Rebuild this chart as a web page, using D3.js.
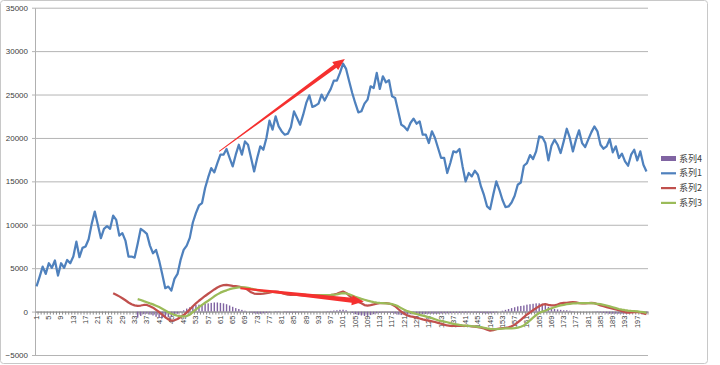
<!doctype html>
<html>
<head>
<meta charset="utf-8">
<title>系列</title>
<script src="https://cdnjs.cloudflare.com/ajax/libs/d3/7.8.5/d3.min.js"></script>
<style>
	body { margin: 0; background: #fff; }
	text { font-family: "Liberation Sans", Arial, sans-serif; fill: #404040; }
	.legend text { font-family: "Noto Sans CJK SC", sans-serif; }
</style>
</head>
<body>
<script>
	// category labels run 1..200, every 4th one is printed
	var categories = d3.range(1, 201);
	var yTicks = [-5000, 0, 5000, 10000, 15000, 20000, 25000, 30000, 35000];

	// 系列1, starts at category 1
	var series1 = [2900, 4000, 5180, 4340, 5570, 5030, 5880, 4150, 5570, 5030,
		5950, 5570, 6340, 8060, 6260, 7340, 7500, 8330, 10100, 11520,
		9990, 8450, 9530, 9840, 9530, 11060, 10560, 8760, 9030, 8180,
		6340, 6340, 6220, 7800, 9530, 9260, 8950, 7600, 6720, 7100,
		5880, 4340, 2690, 2880, 2420, 3770, 4340, 5950, 7100, 7600,
		8490, 10260, 11340, 12220, 12500, 14230, 15450, 16530, 16030, 17110,
		18070, 18070, 18720, 17690, 16720, 18070, 19220, 18070, 19600, 19220,
		17690, 16140, 17690, 19030, 18640, 19990, 21990, 20950, 22480, 21330,
		20750, 20370, 20490, 21260, 23060, 22290, 21530, 22680, 24030, 24910,
		23570, 23720, 23950, 24990, 24300, 24990, 25650, 26600, 26600, 27490,
		28560, 27950, 26520, 25180, 24000, 22950, 23070, 23950, 24410, 25940,
		25750, 27490, 25640, 27100, 26400, 26640, 24790, 24600, 23060, 21530,
		21290, 20870, 21720, 22220, 21640, 21910, 20370, 20370, 19410, 20760,
		19990, 18840, 17690, 17690, 15960, 17110, 18450, 18340, 18720, 16720,
		14990, 15960, 15570, 16220, 15760, 14410, 13400, 12110, 11800, 13450,
		14990, 14030, 12880, 12030, 12110, 12570, 13340, 14610, 14870, 16800,
		17110, 18030, 17570, 18450, 20180, 20100, 19410, 17410, 19100, 19800,
		19220, 18260, 19600, 21060, 20000, 18450, 19800, 20870, 19410, 18950,
		19800, 20640, 21330, 20760, 19220, 18760, 19030, 19880, 18340, 19030,
		17690, 18200, 17300, 16800, 18070, 18640, 17410, 18450, 16910, 16140];

	// 系列2, starts at category 26
	var series2Start = 26;
	var series2 = [2120, 1950, 1750, 1540, 1300,
		1050, 850, 720, 660, 700, 760, 760, 620, 450, 200,
		-50, -350, -650, -900, -1040, -1000, -850, -620, -400, -100,
		250, 620, 950, 1250, 1520, 1800, 2050, 2300, 2550, 2780,
		2950, 3050, 3080, 3020, 2960, 2920, 2880, 2800, 2700, 2480,
		2220, 2080, 2030, 2030, 2060, 2120, 2190, 2260, 2310, 2260,
		2150, 2040, 1950, 1920, 1920, 1920, 1900, 1880, 1860, 1850,
		1840, 1830, 1830, 1830, 1850, 1870, 1900, 1950, 2050, 2200,
		2310, 2150, 1850, 1550, 1300, 1100, 950, 750, 690, 750,
		830, 920, 970, 970, 970, 930, 820, 620, 300, 0,
		-250, -450, -550, -620, -700, -800, -900, -980, -1050, -1120,
		-1200, -1300, -1400, -1500, -1600, -1650, -1650, -1650, -1650, -1650,
		-1650, -1660, -1700, -1740, -1780, -1850, -1950, -2080, -2190, -2150,
		-2030, -1950, -1900, -1870, -1820, -1700, -1500, -1250, -950, -650,
		-330, -100, 150, 400, 620, 800, 850, 780, 720, 720,
		800, 950, 1000, 1000, 1050, 1080, 1050, 980, 950, 950,
		970, 990, 980, 850, 720, 620, 520, 420, 330, 250,
		150, 50, -50, -120, -100, -50, -40, -100, -200, -300];

	// 系列3, starts at category 34
	var series3Start = 34;
	var series3 = [1430, 1330, 1200, 1080, 950, 830, 680,
		520, 330, 130, -80, -250, -380, -480, -550, -560, -520,
		-350, -50, 250, 520, 780, 1020, 1250, 1500, 1760, 1980,
		2180, 2330, 2450, 2580, 2680, 2740, 2780, 2800, 2790, 2730,
		2640, 2560, 2470, 2410, 2360, 2330, 2310, 2280, 2240, 2200,
		2160, 2120, 2080, 2040, 2010, 1990, 1970, 1950, 1920, 1910,
		1900, 1900, 1900, 1900, 1900, 1910, 1920, 1940, 1990, 2060,
		2120, 2100, 2000, 1850, 1700, 1580, 1460, 1360, 1260, 1170,
		1100, 1040, 1000, 980, 960, 930, 850, 760, 600, 400,
		210, 50, -60, -170, -280, -380, -470, -560, -650, -760,
		-880, -1000, -1080, -1150, -1230, -1330, -1420, -1480, -1540, -1580,
		-1610, -1640, -1680, -1710, -1750, -1800, -1860, -1930, -1990, -2030,
		-2030, -2000, -1950, -1920, -1920, -1920, -1910, -1850, -1750, -1600,
		-1300, -1000, -700, -400, -170, 0, 100, 270, 380, 500,
		620, 720, 780, 850, 900, 940, 960, 970, 970, 970,
		970, 970, 950, 900, 850, 780, 700, 600, 500, 400,
		300, 230, 170, 120, 80, 50, 20, -20, -60, -150];

	// 系列4 (bars), starts at category 34
	var series4Start = 34;
	var series4 = [-700, -500, -300, -250, -350, -450, -600,
		-700, -750, -700, -650, -550, -400, -250, -50, 150, 350,
		500, 650, 750, 800, 850, 900, 950, 1000, 1050, 1050,
		1000, 950, 850, 700, 550, 400, 300, 200, 100, 0,
		-100, -200, -250, -250, -200, -150, -100, 0, 50, 50,
		0, -50, -80, -100, -100, -80, -60, -50, -40, -30,
		-30, -20, -20, 0, 20, 50, 80, 120, 150, 200,
		220, 150, 0, -150, -300, -400, -450, -500, -500, -400,
		-300, -200, -150, -100, -80, -100, -150, -250, -350, -400,
		-400, -350, -300, -300, -300, -300, -300, -280, -260, -250,
		-250, -250, -220, -200, -200, -180, -150, -150, -150, -120,
		-120, -100, -100, -100, -120, -150, -200, -220, -200, -150,
		-100, 0, 100, 200, 300, 400, 500, 600, 650, 700,
		800, 850, 900, 950, 950, 900, 750, 550, 400, 300,
		250, 200, 150, 150, 100, 50, 0, 0, 0, 0,
		0, 0, -20, -50, -100, -150, -200, -250, -250, -250,
		-250, -250, -250, -200, -150, -100, -100, -150, -150, -200];

	// hand drawn red arrows, in [category, value]
	var arrowUp = [[60.6, 18450], [101.6, 29100]];
	var arrowDown = [[67.5, 2700], [107.8, 1150]];

	var legendItems = [
		{ name: '系列4', color: '#8064A2', bar: true },
		{ name: '系列1', color: '#4F81BD' },
		{ name: '系列2', color: '#C0504D' },
		{ name: '系列3', color: '#9BBB59' }
	];

	function pad(start, values) {
		var out = categories.map(function () { return null; });
		values.forEach(function (v, i) { out[start - 1 + i] = v; });
		return out;
	}

	var chartW = 720, chartH = 365;
	var plotLeft = 35, plotRight = 648, plotTop = 7.7, plotBottom = 355;

	var svg = d3.select('body').append('svg')
		.attr('width', chartW)
		.attr('height', chartH);

	// chart frame
	svg.append('rect')
		.attr('x', 0.5).attr('y', 0.5)
		.attr('width', 707).attr('height', 363)
		.attr('rx', 3)
		.attr('fill', '#fff')
		.attr('stroke', '#c8c8c8');

	var x = d3.scaleBand()
		.domain(categories)
		.range([plotLeft, plotRight]);

	var y = d3.scaleLinear()
		.domain([-5000, 35000])
		.range([plotBottom, plotTop]);

	function cx(c) { return x(1) + (c - 0.5) * x.bandwidth(); }

	// gridlines + y axis
	var yAxis = d3.axisLeft(y)
		.tickValues(yTicks)
		.tickFormat(d3.format('d'))
		.tickSize(-(plotRight - plotLeft))
		.tickPadding(7)
		.tickSizeOuter(0);

	var gy = svg.append('g')
		.attr('transform', 'translate(' + plotLeft + ',0)')
		.call(yAxis);
	gy.select('.domain').attr('stroke', '#b0b0b0');
	gy.selectAll('.tick line').attr('stroke', '#b4b4b4').attr('x1', -3);
	gy.selectAll('.tick text')
		.attr('font-size', '8px')
		.attr('fill', '#404040')
		.style('font-family', '"Liberation Sans", Arial, sans-serif');

	// category axis across zero
	var xAxis = d3.axisBottom(x)
		.tickValues(categories)
		.tickSize(3)
		.tickFormat(function (d) { return (d - 1) % 4 === 0 ? d : ''; })
		.tickSizeOuter(0);

	var gx = svg.append('g')
		.attr('transform', 'translate(0,' + y(0) + ')')
		.call(xAxis);
	gx.select('.domain').attr('stroke', '#8c8c8c');
	gx.selectAll('.tick line')
		.attr('stroke', '#8c8c8c')
		.attr('transform', 'translate(' + (x.bandwidth() / 2) + ',0)');
	gx.selectAll('.tick text')
		.attr('font-size', '7.5px')
		.attr('fill', '#404040')
		.attr('text-anchor', 'end')
		.attr('dy', '0.32em')
		.attr('transform', 'translate(0,4) rotate(-90)')
		.attr('x', 0).attr('y', 0)
		.style('font-family', '"Liberation Sans", Arial, sans-serif');

	// 系列4 bars
	var bars4 = pad(series4Start, series4);
	svg.append('g').selectAll('rect')
		.data(categories.filter(function (c) { return bars4[c - 1] !== null; }))
		.enter()
		.append('rect')
		.attr('x', function (c) { return cx(c) - 0.7; })
		.attr('width', 1.4)
		.attr('y', function (c) { return Math.min(y(bars4[c - 1]), y(0)); })
		.attr('height', function (c) { return Math.abs(y(bars4[c - 1]) - y(0)); })
		.attr('fill', '#8064A2');

	var line = d3.line()
		.defined(function (d) { return d.v !== null; })
		.x(function (d) { return cx(d.c); })
		.y(function (d) { return y(d.v); });

	function drawLine(vals, color) {
		var pts = categories.map(function (c, i) { return { c: c, v: vals[i] }; });
		svg.append('path')
			.datum(pts)
			.attr('d', line)
			.attr('fill', 'none')
			.attr('stroke', color)
			.attr('stroke-width', 2.25)
			.attr('stroke-linejoin', 'round');
	}

	drawLine(series1, '#4F81BD');
	drawLine(pad(series2Start, series2), '#C0504D');
	drawLine(pad(series3Start, series3), '#9BBB59');

	// tapered arrow shapes
	function arrow(pts, w0, w1, headLen, headW) {
		var p0 = [cx(pts[0][0]), y(pts[0][1])];
		var p1 = [cx(pts[1][0]), y(pts[1][1])];
		var dx = p1[0] - p0[0], dy = p1[1] - p0[1];
		var len = Math.sqrt(dx * dx + dy * dy);
		var ux = dx / len, uy = dy / len, nx = -uy, ny = ux;
		var hb = [p1[0] - ux * headLen, p1[1] - uy * headLen];
		var poly = [
			[p0[0] + nx * w0 / 2, p0[1] + ny * w0 / 2],
			[hb[0] + nx * w1 / 2, hb[1] + ny * w1 / 2],
			[hb[0] + nx * headW / 2, hb[1] + ny * headW / 2],
			p1,
			[hb[0] - nx * headW / 2, hb[1] - ny * headW / 2],
			[hb[0] - nx * w1 / 2, hb[1] - ny * w1 / 2],
			[p0[0] - nx * w0 / 2, p0[1] - ny * w0 / 2]
		];
		svg.append('path')
			.attr('d', 'M' + poly.map(function (p) { return p.join(','); }).join('L') + 'Z')
			.attr('fill', '#F5302F');
	}

	arrow(arrowUp, 0.8, 4, 12, 10);
	arrow(arrowDown, 2, 5, 12, 10);

	// legend
	var legend = svg.append('g').attr('class', 'legend');
	var items = legend.selectAll('g')
		.data(legendItems)
		.enter()
		.append('g')
		.attr('transform', function (d, i) { return 'translate(661,' + (158.5 + i * 14.8) + ')'; });

	items.append('rect')
		.attr('x', 0)
		.attr('width', 15)
		.attr('y', function (d) { return d.bar ? -2.5 : -1.1; })
		.attr('height', function (d) { return d.bar ? 5 : 2.2; })
		.attr('fill', function (d) { return d.color; });

	items.append('text')
		.attr('x', 18)
		.attr('dy', '0.35em')
		.attr('font-size', '9px')
		.text(function (d) { return d.name; });
</script>
</body>
</html>
